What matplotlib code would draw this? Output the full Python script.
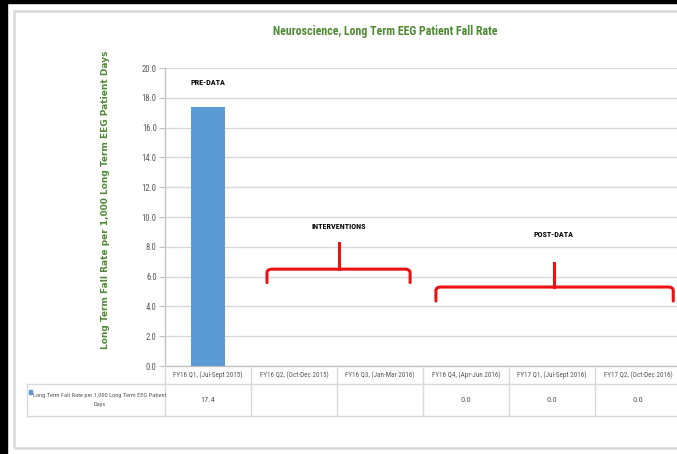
import matplotlib
matplotlib.use("Agg")
import matplotlib.pyplot as plt
from matplotlib import font_manager as fm
from matplotlib.patches import Rectangle, PathPatch
from matplotlib.lines import Line2D
from matplotlib.path import Path

# ---- data ----
categories = [
    "FY16 Q1, (Jul-Sept 2015)",
    "FY16 Q2, (Oct-Dec 2015)",
    "FY16 Q3, (Jan-Mar 2016)",
    "FY16 Q4, (Apr-Jun 2016)",
    "FY17 Q1, (Jul-Sept 2016)",
    "FY17 Q2, (Oct-Dec 2016)",
]
fall_rate = [17.4, None, None, 0.0, 0.0, 0.0]
series_name = "Long Term Fall Rate per 1,000 Long Term EEG Patient Days"
y_ticks = [0, 2, 4, 6, 8, 10, 12, 14, 16, 18, 20]

W, H = 677, 454

# pick a narrow sans family for the small chart text
_installed = {f.name for f in fm.fontManager.ttflist}
_narrow_pref = ["Liberation Sans Narrow", "Arial Narrow", "Roboto Condensed",
                "Open Sans Condensed", "IBM Plex Sans Condensed",
                "Noto Sans Condensed", "Lato"]
NARROW = [f for f in _narrow_pref if f in _installed][:1] + ["DejaVu Sans"]

GREEN = "#4f8a35"
GREY_TXT = "#595959"
LINE = "#d9d9d9"
BAR = "#5b9bd5"
RED = "#ee1111"


def fx(px):
    return px / W


def fy(py):
    return 1 - py / H


def ntext(x, y, s, **kw):
    kw.setdefault("family", NARROW)
    kw.setdefault("fontstretch", "condensed")
    return fig.text(fx(x), fy(y), s, **kw)


fig = plt.figure(figsize=(W / 100, H / 100), dpi=100)
fig.patch.set_facecolor("white")

# dark frame strips and light chart border
fig.add_artist(Rectangle((0, fy(3)), 1, 1, transform=fig.transFigure,
                         color="black", zorder=0))
fig.add_artist(Rectangle((0, 0), fx(6.5), 1, transform=fig.transFigure,
                         color="black", zorder=0))
fig.add_artist(Rectangle((fx(14), fy(448)), 1.0, fy(11) - fy(448),
                         transform=fig.transFigure, fill=False,
                         edgecolor=LINE, lw=1.8, zorder=1))

left_px, right_px, top_px, bot_px = 165, 681, 68, 366
ax = fig.add_axes([fx(left_px), fy(bot_px), fx(right_px) - fx(left_px),
                   fy(top_px) - fy(bot_px)])
ax.set_facecolor("none")

n = len(categories)
xs = list(range(n))
bar_x = [x for x, v in zip(xs, fall_rate) if v is not None]
bar_v = [v for v in fall_rate if v is not None]
ax.bar(bar_x, bar_v, width=0.4, color=BAR, zorder=3)

ax.set_xlim(-0.5, n - 0.5)
ax.set_ylim(0, 20)
ax.set_yticks(y_ticks)
ax.set_yticklabels([f"{t:.1f}" for t in y_ticks], fontsize=6.2,
                   color=GREY_TXT, family=NARROW, fontstretch="condensed")
ax.set_xticks([])
ax.grid(axis="y", color=LINE, lw=1.0, zorder=0)
for s in ["top", "right"]:
    ax.spines[s].set_visible(False)
for s in ["left", "bottom"]:
    ax.spines[s].set_color("#bfbfbf")
    ax.spines[s].set_linewidth(0.9)
ax.tick_params(axis="y", length=4, color="#bfbfbf", pad=2)

# phase labels
for label, x, y in [("PRE-DATA", 0, 19.05), ("INTERVENTIONS", 1.52, 9.35),
                    ("POST-DATA", 4.02, 8.8)]:
    ax.text(x, y, label, ha="center", va="center", fontsize=5.9,
            fontweight="bold", family=NARROW, fontstretch="condensed",
            color="black")


def bracket(x0, x1, xm, y_bar, y_end, y_top):
    r = 0.06
    verts = [(x0, y_end), (x0, y_bar - 0.25), (x0, y_bar), (x0 + r, y_bar),
             (x1 - r, y_bar), (x1, y_bar), (x1, y_bar - 0.25), (x1, y_end)]
    codes = [Path.MOVETO, Path.LINETO, Path.CURVE3, Path.CURVE3,
             Path.LINETO, Path.CURVE3, Path.CURVE3, Path.LINETO]
    ax.add_patch(PathPatch(Path(verts, codes), fill=False, edgecolor=RED,
                           lw=2.2, capstyle="round", zorder=4))
    ax.add_line(Line2D([xm, xm], [y_bar, y_top], color=RED, lw=2.2, zorder=4))


bracket(0.686, 2.35, 1.52, 6.5, 5.6, 8.25)
bracket(2.65, 5.41, 4.02, 5.3, 4.36, 6.9)

# title and axis title
ntext(385, 31, "Neuroscience, Long Term EEG Patient Fall Rate",
      ha="center", va="center", fontsize=8.6, color=GREEN, fontweight="bold")
fig.text(fx(106), fy(200), series_name, rotation=90, ha="center",
         va="center", fontsize=6.5, color=GREEN, fontweight="bold",
         family="DejaVu Sans")

# data table under the axis
col_w = (right_px - left_px) / n
row1_bot, row2_bot = 384, 416
leg_left = 27


def hline(x0, x1, py):
    fig.add_artist(Line2D([fx(x0), fx(x1)], [fy(py), fy(py)],
                          transform=fig.transFigure, color=LINE, lw=1.0))


def vline(px, y0, y1):
    fig.add_artist(Line2D([fx(px), fx(px)], [fy(y0), fy(y1)],
                          transform=fig.transFigure, color=LINE, lw=1.0))


hline(leg_left, right_px, row1_bot)
hline(leg_left, right_px, row2_bot)
vline(leg_left, row1_bot, row2_bot)
for i in range(n + 1):
    vline(left_px + i * col_w, bot_px, row2_bot)

for i, (cat, v) in enumerate(zip(categories, fall_rate)):
    cx = left_px + (i + 0.5) * col_w
    ntext(cx, 375.5, cat, ha="center", va="center", fontsize=5.1,
          color=GREY_TXT)
    if v is not None:
        ntext(cx, 400, f"{v:.1f}", ha="center", va="center", fontsize=6.0,
              color=GREY_TXT)

fig.add_artist(Rectangle((fx(29), fy(394)), fx(3), fy(390) - fy(394),
                         transform=fig.transFigure, color=BAR, zorder=5))
ntext(99.5, 400, "Long Term Fall Rate per 1,000 Long Term EEG Patient\nDays",
      ha="center", va="center", fontsize=4.6, color=GREY_TXT,
      linespacing=2.0)

fig.savefig("out.png", dpi=100)
